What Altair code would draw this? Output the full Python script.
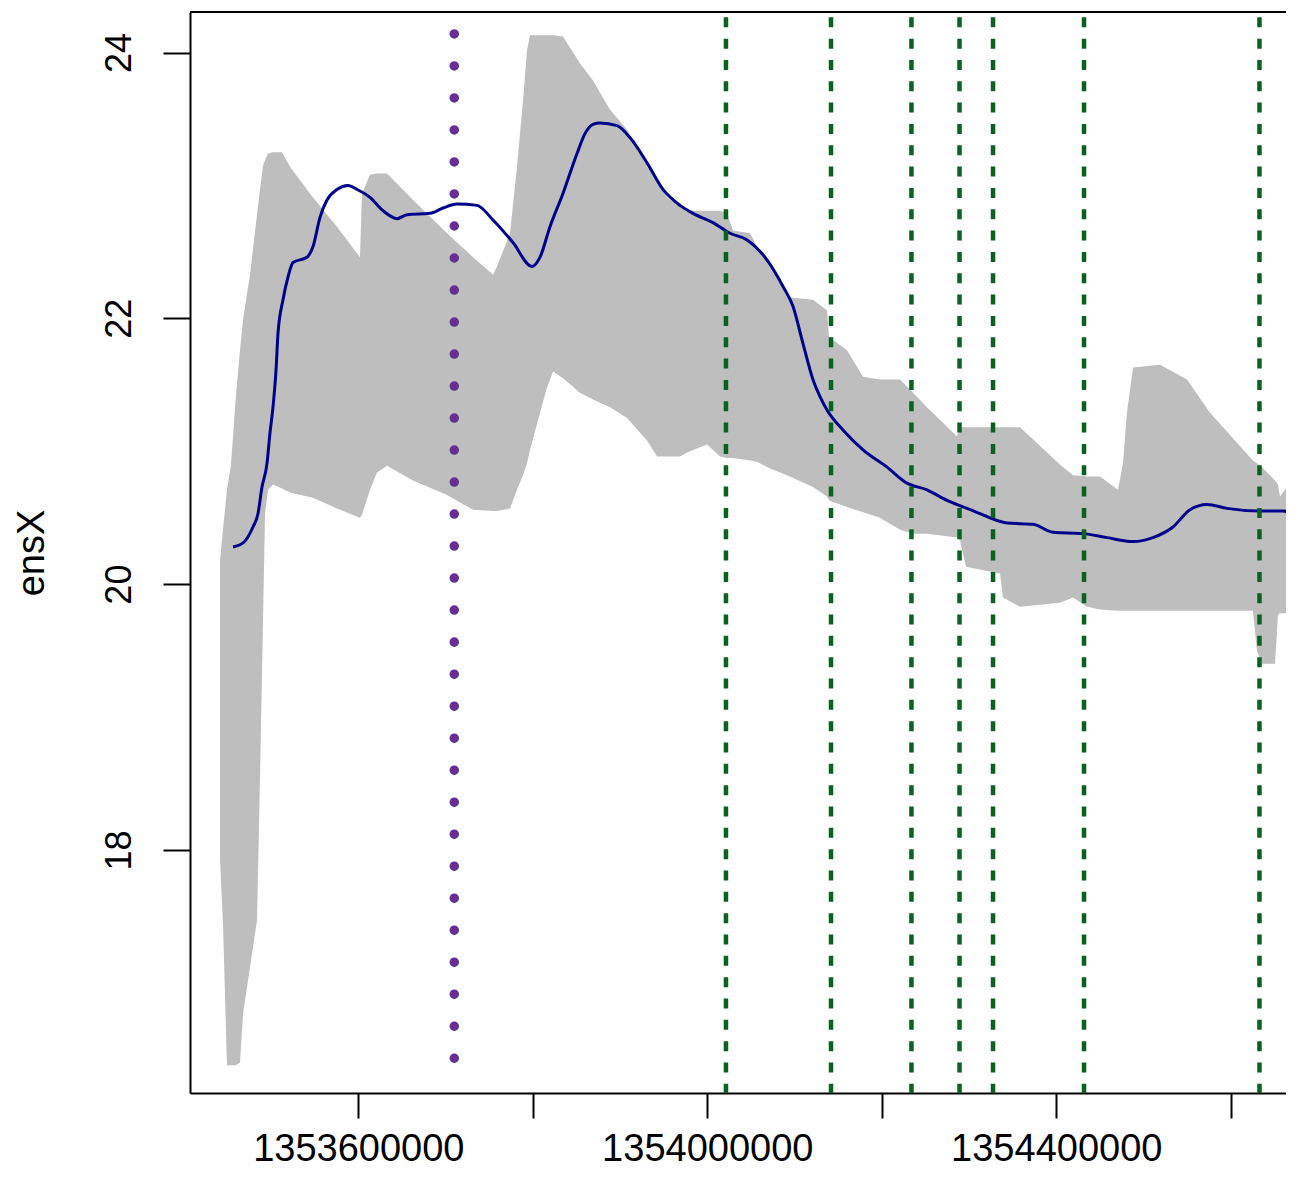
import altair as alt
import pandas as pd

# ---------------- data ----------------
GRAY_POS = [1353441500, 1353444900, 1353449500, 1353454100, 1353459800, 1353464400, 1353467900, 1353475900, 1353483900, 1353487300,
            1353490800, 1353493100, 1353496500, 1353502200, 1353512600, 1353521700, 1353548100, 1353575600, 1353601900, 1353604200,
            1353613400, 1353621400, 1353632900, 1353662700, 1353701700, 1353731500, 1353754400, 1353759000, 1353773900, 1353781900,
            1353788800, 1353793400, 1353796800, 1353808300, 1353816300, 1353823200, 1353834600, 1353854100, 1353869000, 1353888500,
            1353908000, 1353930900, 1353942400, 1353953800, 1353968700, 1353976700, 1353999700, 1354014600, 1354022600, 1354029500,
            1354048900, 1354057000, 1354071900, 1354091300, 1354121100, 1354137200, 1354139500, 1354160100, 1354178500, 1354197900,
            1354220900, 1354235800, 1354251800, 1354286200, 1354289600, 1354296500, 1354335500, 1354338900, 1354358400, 1354404200,
            1354419100, 1354435200, 1354450100, 1354470700, 1354476500, 1354481000, 1354487900, 1354518900, 1354549800, 1354576200,
            1354625400, 1354630000, 1354635800, 1354650700, 1354654100, 1354656400, 1354662100, 1354672400]
GRAY_HIGH = [20.18, 20.41, 20.71, 20.90, 21.42, 21.76, 21.99, 22.33, 22.78, 22.97,
             23.15, 23.19, 23.24, 23.25, 23.25, 23.14, 22.91, 22.69, 22.46, 22.94,
             23.08, 23.09, 23.09, 22.89, 22.64, 22.46, 22.33, 22.39, 22.64, 23.14,
             23.64, 24.02, 24.13, 24.13, 24.13, 24.13, 24.12, 23.92, 23.79, 23.57,
             23.42, 23.14, 23.03, 22.91, 22.84, 22.81, 22.81, 22.81, 22.79, 22.66,
             22.64, 22.54, 22.42, 22.16, 22.14, 22.06, 21.86, 21.76, 21.56, 21.54,
             21.54, 21.44, 21.33, 21.11, 21.18, 21.18, 21.18, 21.18, 21.18, 20.90,
             20.82, 20.81, 20.81, 20.71, 20.91, 21.29, 21.63, 21.65, 21.54, 21.29,
             20.93, 20.91, 20.88, 20.78, 20.75, 20.66, 20.71, 20.73]
GRAY_LOW = [17.93, 17.44, 16.38, 16.38, 16.38, 16.40, 16.77, 17.12, 17.47, 18.53,
            19.73, 20.53, 20.71, 20.75, 20.72, 20.69, 20.65, 20.57, 20.50, 20.52,
            20.71, 20.84, 20.89, 20.78, 20.67, 20.56, 20.55, 20.55, 20.57, 20.71,
            20.82, 20.91, 21.01, 21.29, 21.48, 21.60, 21.55, 21.44, 21.39, 21.33,
            21.25, 21.08, 20.96, 20.96, 20.96, 20.99, 21.05, 20.96, 20.95, 20.95,
            20.93, 20.92, 20.87, 20.82, 20.73, 20.66, 20.63, 20.58, 20.54, 20.50,
            20.41, 20.38, 20.38, 20.35, 20.33, 20.13, 20.08, 19.90, 19.83, 19.86,
            19.90, 19.83, 19.81, 19.80, 19.80, 19.80, 19.80, 19.80, 19.80, 19.80,
            19.80, 19.50, 19.40, 19.40, 19.77, 19.78, 19.78, 19.78]

LINE_POS = [1353456400, 1353467900, 1353479300, 1353485000, 1353489600, 1353495400, 1353498800, 1353502200, 1353505700, 1353508000,
            1353513700, 1353519400, 1353525200, 1353541200, 1353548100, 1353556100, 1353564100, 1353575600, 1353588200, 1353598500,
            1353613400, 1353628300, 1353644400, 1353655800, 1353682200, 1353697100, 1353713100, 1353736000, 1353754400, 1353777300,
            1353799100, 1353808300, 1353819700, 1353834600, 1353850700, 1353859800, 1353869000, 1353877000, 1353896500, 1353911400,
            1353930900, 1353949200, 1353968700, 1353983600, 1354006500, 1354026000, 1354045500, 1354068400, 1354086800, 1354098200,
            1354109700, 1354121100, 1354129200, 1354137200, 1354155500, 1354178500, 1354206000, 1354228900, 1354251800, 1354274700,
            1354297700, 1354312600, 1354343500, 1354373300, 1354396200, 1354430600, 1354458100, 1354487900, 1354510800, 1354533800,
            1354553200, 1354572700, 1354595600, 1354633500, 1354659800, 1354672400]
LINE_VAL = [20.28, 20.31, 20.43, 20.53, 20.73, 20.91, 21.14, 21.33, 21.61, 21.89,
            22.14, 22.31, 22.42, 22.46, 22.54, 22.76, 22.89, 22.97, 23.00, 22.97,
            22.91, 22.81, 22.75, 22.78, 22.79, 22.83, 22.86, 22.85, 22.74, 22.57,
            22.39, 22.46, 22.69, 22.94, 23.24, 23.39, 23.46, 23.47, 23.45, 23.36,
            23.17, 22.97, 22.85, 22.79, 22.72, 22.64, 22.59, 22.44, 22.24, 22.09,
            21.81, 21.54, 21.41, 21.31, 21.16, 21.01, 20.88, 20.76, 20.71, 20.63,
            20.57, 20.53, 20.46, 20.45, 20.39, 20.38, 20.35, 20.32, 20.35, 20.43,
            20.56, 20.60, 20.57, 20.55, 20.55, 20.53]

PURPLE_POS = [1353710000]
PURPLE_TOP = [24.14]
PURPLE_BOTTOM = [16.42]

GREEN_POS = [1354021400, 1354141800, 1354234000, 1354289100, 1354327500, 1354431800, 1354632900]

X_DOMAIN = [1353407100, 1354663300]
Y_DOMAIN = [16.171, 24.305]
X_TICKS = [1353600000, 1353800000, 1354000000, 1354200000, 1354400000, 1354600000]
X_TICK_LABELS = ["1353600000", "", "1354000000", "", "1354400000", ""]
Y_TICKS = [18, 20, 22, 24]
Y_TITLE = "ensX"

# ---------------- styling ----------------
W, H = 1096, 1081
FONT = "Liberation Sans"

label_expr = ""
for v, lab in zip(X_TICKS, X_TICK_LABELS):
    label_expr += f"datum.value == {v} ? '{lab}' : "
label_expr += "''"

x_axis = alt.Axis(values=X_TICKS, labelExpr=label_expr, tickSize=25, tickWidth=2, tickColor="black",
                  domainColor="black", domainWidth=2, labelFont=FONT, labelFontSize=38, labelColor="black",
                  labelBaseline="alphabetic", labelAlign="center", labelPadding=42, labelOverlap=False,
                  labelFlush=False, labelLimit=0, grid=False, title=None)
y_axis = alt.Axis(values=Y_TICKS, format="d", tickSize=27, tickWidth=2, tickColor="black",
                  domainColor="black", domainWidth=2, labelFont=FONT, labelFontSize=36, labelColor="black",
                  labelAngle=270, labelAlign="center", labelBaseline="alphabetic", labelPadding=33,
                  labelOverlap=False, labelFlush=False, labelLimit=0, grid=False,
                  title=Y_TITLE, titleFont=FONT, titleFontSize=38, titleFontWeight="normal", titleColor="black",
                  titleAngle=270, titleAlign="center", titleBaseline="alphabetic", titleX=-147, titleY=540.5)

xs = alt.Scale(domain=X_DOMAIN, nice=False, zero=False)
ys = alt.Scale(domain=Y_DOMAIN, nice=False, zero=False)

gray_df = pd.DataFrame({"pos": GRAY_POS, "hi": GRAY_HIGH, "lo": GRAY_LOW})
line_df = pd.DataFrame({"pos": LINE_POS, "val": LINE_VAL})
purple_df = pd.DataFrame({"pos": PURPLE_POS, "top": PURPLE_TOP, "bot": PURPLE_BOTTOM})
green_df = pd.DataFrame({"pos": GREEN_POS, "top": [Y_DOMAIN[1]] * len(GREEN_POS), "bot": [Y_DOMAIN[0]] * len(GREEN_POS)})

gray = alt.Chart(gray_df).mark_area(color="#BEBEBE", opacity=1, clip=True).encode(
    x=alt.X("pos:Q", scale=xs, axis=x_axis),
    y=alt.Y("hi:Q", scale=ys, axis=y_axis),
    y2="lo:Q",
)

line = alt.Chart(line_df).mark_line(color="#00008B", strokeWidth=3, clip=True, interpolate="monotone").encode(
    x=alt.X("pos:Q", scale=xs, axis=x_axis),
    y=alt.Y("val:Q", scale=ys, axis=y_axis),
)

purple = alt.Chart(purple_df).mark_rule(color="#663090", strokeWidth=9.5, strokeCap="round",
                                          strokeDash=[0.01, 32.0]).encode(
    x=alt.X("pos:Q", scale=xs, axis=x_axis),
    y=alt.Y("top:Q", scale=ys, axis=y_axis),
    y2="bot:Q",
)

green = alt.Chart(green_df).mark_rule(color="#0B6121", strokeWidth=4.5, strokeDash=[10, 11.33],
                                        strokeDashOffset=16.03, clip=True).encode(
    x=alt.X("pos:Q", scale=xs, axis=x_axis),
    y=alt.Y("top:Q", scale=ys, axis=y_axis),
    y2="bot:Q",
)

top_border = alt.Chart(pd.DataFrame({"k": [0]})).mark_rule(color="black", strokeWidth=2).encode(
    x=alt.value(0), x2=alt.value(W), y=alt.value(0)
)

chart = alt.layer(gray, line, purple, green, top_border).properties(
    width=W, height=H,
    autosize=alt.AutoSizeParams(type="none"),
    padding={"left": 182, "top": 4, "right": 0, "bottom": 75},
).configure_view(strokeWidth=0)

chart.save("out.html", embed_options={"renderer": "svg", "actions": False})
